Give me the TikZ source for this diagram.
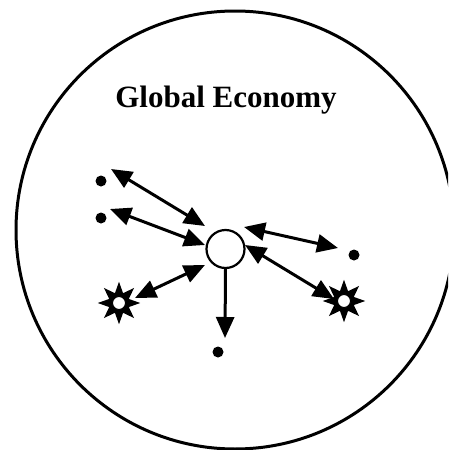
\documentclass[tikz,border=0pt]{standalone}
\usepackage{fontspec}
\setmainfont{Liberation Serif}
\usetikzlibrary{arrows.meta,shapes.geometric}
\begin{document}
\begin{tikzpicture}[x=1pt,y=-1pt,
  tip/.tip={Triangle[length=21pt,width=18pt]},
  dbl/.style={line width=3pt,{tip}-{tip}},
  sgl/.style={line width=3pt,-{tip}},
  dot/.style={circle,fill=black,minimum size=11pt,inner sep=0pt},
  starnode/.style={star,star points=8,star point ratio=2.0,minimum size=38pt,inner sep=0pt,fill=black,draw,line width=1.5pt},
  hub/.style={circle,fill=white,draw,line width=1pt,minimum size=13pt,inner sep=0pt}
]
\useasboundingbox (0,0) rectangle (448,450);
\clip (0,0) rectangle (448,450);
\node[draw,circle,line width=3pt,minimum size=438pt,inner sep=0pt] (world) at (235,230) {};
\node[font=\bfseries\fontsize{31}{36}\selectfont] (title) at (226,100) {Global Economy};
\node[draw,circle,line width=2.2pt,minimum size=38pt,inner sep=0pt] (c) at (225.5,249) {};
\node[dot] (d1) at (101,181) {};
\node[dot] (d2) at (101,218) {};
\node[dot] (d3) at (354,255) {};
\node[dot] (d4) at (218,352) {};
\node[starnode] (s1) at (119,303) {};
\node[hub] (h1) at (s1) {};
\node[starnode] (s2) at (344,301) {};
\node[hub] (h2) at (s2) {};
\coordinate (a1) at (111,169); \coordinate (b1) at (205,226);
\coordinate (a2) at (110,209); \coordinate (b2) at (205,245);
\coordinate (a3) at (338,248); \coordinate (b3) at (244,227);
\coordinate (a4) at (334,299); \coordinate (b4) at (245,245);
\coordinate (a5) at (135,298); \coordinate (b5) at (205,265);
\coordinate (a6) at (225,338);
\draw[dbl] (a1) -- (b1);
\draw[dbl] (a2) -- (b2);
\draw[dbl] (b3) -- (a3);
\draw[dbl] (b4) -- (a4);
\draw[dbl] (a5) -- (b5);
\draw[sgl] (c.south) -- (a6);
\end{tikzpicture}
\end{document}
